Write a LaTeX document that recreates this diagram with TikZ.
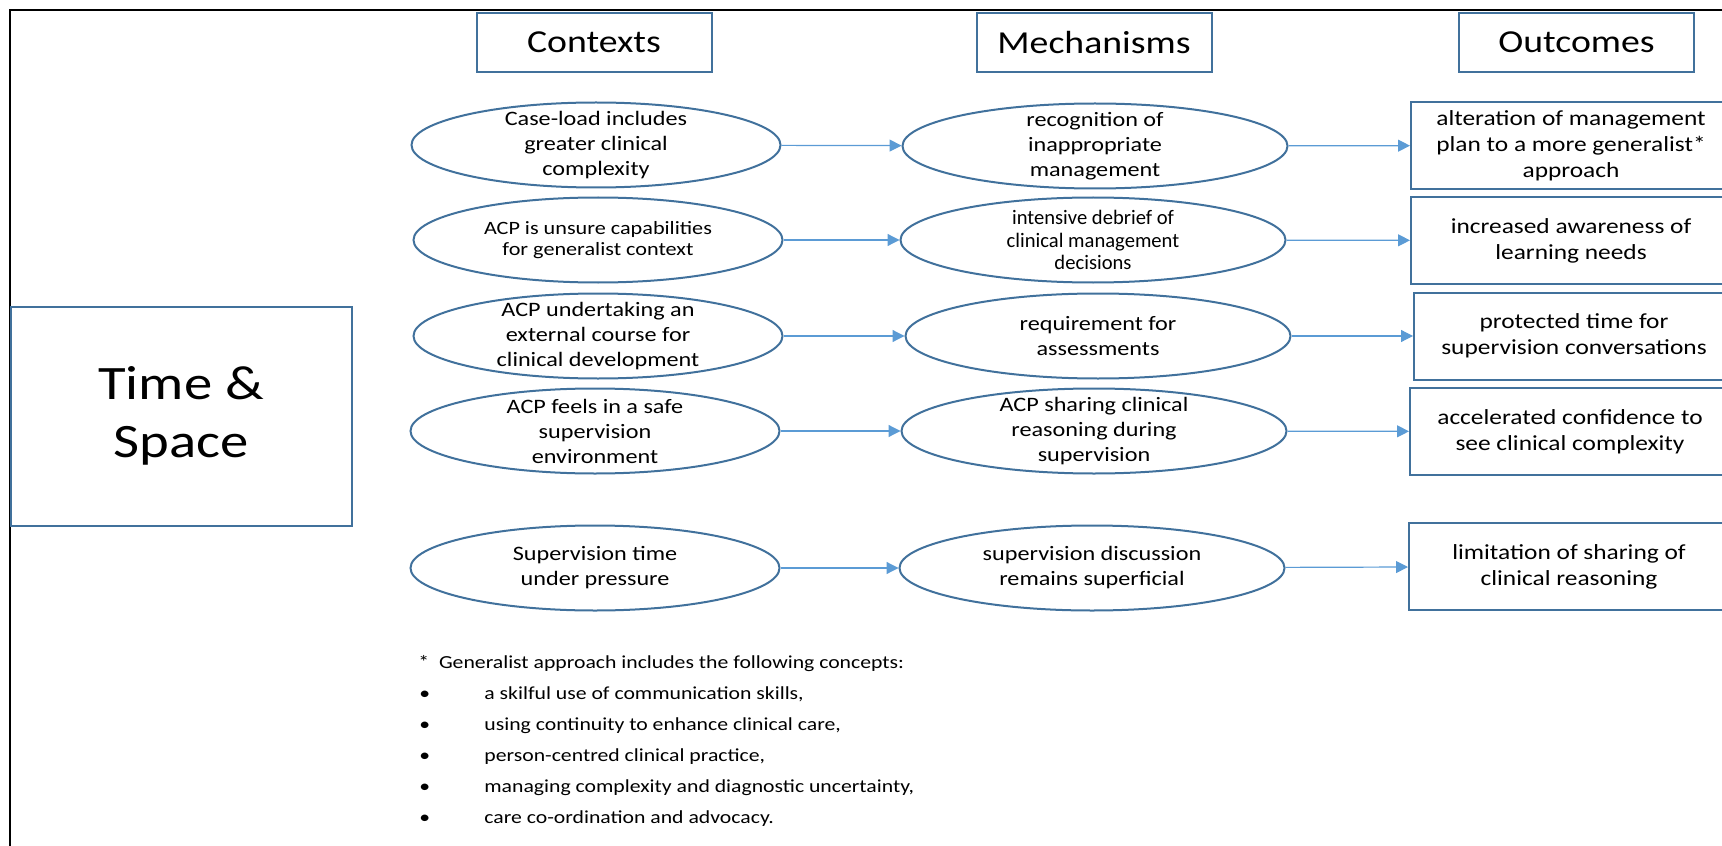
\documentclass[tikz,border=0pt]{standalone}
\usepackage{fontspec}
\setmainfont{Carlito}[FakeStretch=1.18]
\newfontfamily\narrowfont{Carlito}
\definecolor{rmLine}{HTML}{41719C}
\definecolor{rmArrow}{HTML}{5B9BD5}
\usetikzlibrary{arrows.meta,shapes.geometric}

\begin{document}
\begin{tikzpicture}[
  x=0.5pt,y=-0.5pt,
  hdr/.style={draw=rmLine,line width=1pt,minimum width=117.5pt,minimum height=29.5pt,
              inner sep=0pt,font=\fontsize{16}{19}\selectfont},
  ctx/.style={ellipse,draw=rmLine,line width=1pt,minimum width=184.5pt,minimum height=42.5pt,
              inner xsep=0pt,inner ysep=-4pt,align=center,font=\fontsize{10.25}{12.5}\selectfont},
  mech/.style={ctx,minimum width=192.5pt},
  small/.style={font=\fontsize{9.4}{10.5}\selectfont},
  narrow/.style={font=\narrowfont\fontsize{10.3}{11.2}\selectfont},
  outc/.style={draw=rmLine,line width=1pt,minimum width=160pt,minimum height=43.5pt,
               inner sep=0pt,align=center,font=\fontsize{10.75}{13}\selectfont},
  link/.style={draw=rmArrow,line width=0.6pt,-{Triangle[length=6pt,width=6pt]}},
  note/.style={anchor=base west,inner sep=0pt,font=\fontsize{9.2}{11}\selectfont}
]
\clip (0,0) rectangle (1722,845);
\draw[line width=1.25pt] (10,860) -- (10,10) -- (1740,10);

\node[hdr] (ctxhead) at (594,42.5) {Contexts};
\node[hdr] (mechhead) at (1094,42.5) {Mechanisms};
\node[hdr] (outhead) at (1576.5,42.5) {Outcomes};

\node[draw=rmLine,line width=1pt,minimum width=170.5pt,minimum height=109.5pt,align=center,
      font=\fontsize{24}{29}\selectfont] (timespace) at (181,416) {Time \&\\Space};

% contexts
\node[ctx] (c1) at (596,145) {Case-load includes\\greater clinical\\complexity};
\node[ctx,small] (c2) at (598,240) {ACP is unsure capabilities\\for generalist context};
\node[ctx] (c3) at (598,336) {ACP undertaking an\\external course for\\clinical development};
\node[ctx] (c4) at (595,431) {ACP feels in a safe\\supervision\\environment};
\node[ctx] (c5) at (595,568) {Supervision time\\under pressure};

% mechanisms
\node[mech] (m1) at (1095,146) {recognition of\\inappropriate\\management};
\node[mech,narrow] (m2) at (1093,240) {intensive debrief of\\clinical management\\decisions};
\node[mech] (m3) at (1098,336) {requirement for\\assessments};
\node[mech] (m4) at (1094,431) {ACP sharing clinical\\reasoning during\\supervision};
\node[mech] (m5) at (1092,568) {supervision discussion\\remains superficial};

% outcomes
\node[outc] (o1) at (1571,145.5) {alteration of management\\plan to a more generalist*\\approach};
\node[outc] (o2) at (1571,240.5) {increased awareness of\\learning needs};
\node[outc] (o3) at (1574,336) {protected time for\\supervision conversations};
\node[outc] (o4) at (1570,431.5) {accelerated confidence to\\see clinical complexity};
\node[outc] (o5) at (1569,566.5) {limitation of sharing of\\clinical reasoning};

\draw[link] (c1) -- (m1);
\draw[link] (c2) -- (m2);
\draw[link] (c3) -- (m3);
\draw[link] (c4) -- (m4);
\draw[link] (c5) -- (m5);
\draw[link] (m1) -- (o1);
\draw[link] (m2) -- (o2);
\draw[link] (m3) -- (o3);
\draw[link] (m4) -- (o4);
\draw[link] (m5) -- (o5);

% footnote
\node[note] (fnhead) at (418,668) {*\ \ Generalist approach includes the following concepts:};
\node[note] (fn1) at (419,699) {\makebox[32.5pt][l]{•}a skilful use of communication skills,};
\node[note] (fn2) at (419,730) {\makebox[32.5pt][l]{•}using continuity to enhance clinical care,};
\node[note] (fn3) at (419,761) {\makebox[32.5pt][l]{•}person-centred clinical practice,};
\node[note] (fn4) at (419,792) {\makebox[32.5pt][l]{•}managing complexity and diagnostic uncertainty,};
\node[note] (fn5) at (419,823) {\makebox[32.5pt][l]{•}care co-ordination and advocacy.};
\end{tikzpicture}
\end{document}
